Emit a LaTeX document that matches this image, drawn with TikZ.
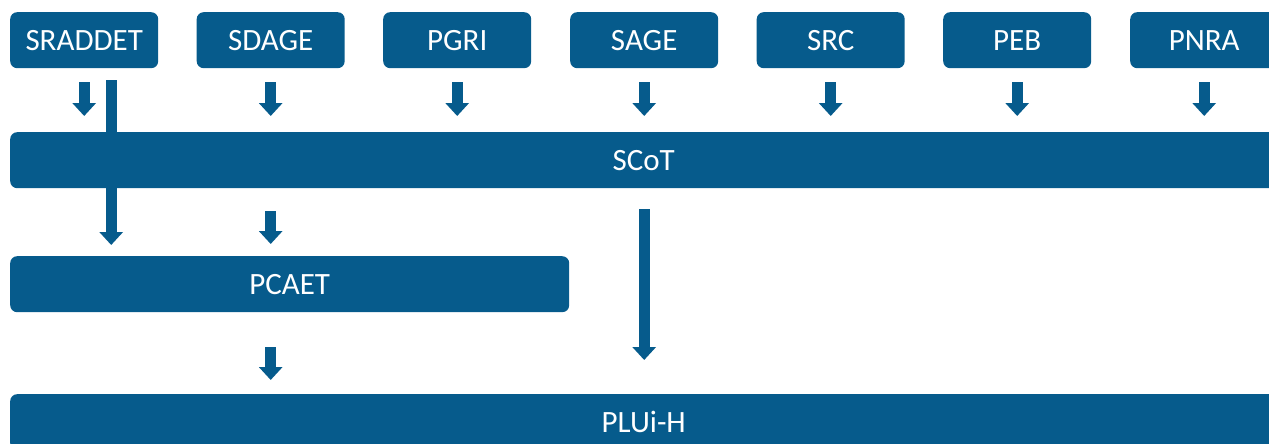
\documentclass[tikz,border=0pt]{standalone}
\usepackage{fontspec}
\setmainfont{Carlito}
\usetikzlibrary{arrows.meta}
\definecolor{bluebox}{RGB}{6,91,140}
\begin{document}
\begin{tikzpicture}[x=1pt,y=-1pt,
  box/.style={fill=bluebox, rounded corners=7pt, text=white, inner sep=0pt,
    minimum height=56pt, font=\fontsize{31}{34}\selectfont, anchor=north west},
  topbox/.style={box, minimum width=148pt},
  blk/.style={draw=bluebox, line width=11pt, line cap=butt,
    -{Triangle[width=23pt,length=13pt]}}]
\useasboundingbox (0,0) rectangle (1269,444);
\clip (0,0) rectangle (1269,444);
\node[topbox] (sraddet) at (10,12) {SRADDET};
\node[topbox] (sdage) at (196.5,12) {SDAGE};
\node[topbox] (pgri) at (383,12) {PGRI};
\node[topbox] (sage) at (570,12) {SAGE};
\node[topbox] (src) at (756.5,12) {SRC};
\node[topbox] (peb) at (943,12) {PEB};
\node[topbox] (pnra) at (1130,12) {PNRA};
\node[box, minimum width=1267pt] (scot) at (10,132) {SCoT};
\node[box, minimum width=559pt] (pcaet) at (10,256) {PCAET};
\node[box, minimum width=1267pt] (plui) at (10,394) {PLUi-H};
\foreach \n in {sraddet,sdage,pgri,sage,src,peb,pnra}{
  \draw[blk, shorten <=14pt, shorten >=16pt] (\n.south) -- (\n.south |- scot.north);
}
\draw[blk, shorten <=12pt, shorten >=11pt] ([xshift=27pt]sraddet.south) -- ([xshift=27pt]sraddet.south |- pcaet.north);
\draw[blk, shorten <=23pt, shorten >=12pt] (sdage.south |- scot.south) -- (sdage.south |- pcaet.north);
\draw[blk, shorten <=35pt, shorten >=14pt] (sdage.south |- pcaet.south) -- (sdage.south |- plui.north);
\draw[blk, shorten <=21pt, shorten >=34pt] (sage.south |- scot.south) -- (sage.south |- plui.north);
\end{tikzpicture}
\end{document}
